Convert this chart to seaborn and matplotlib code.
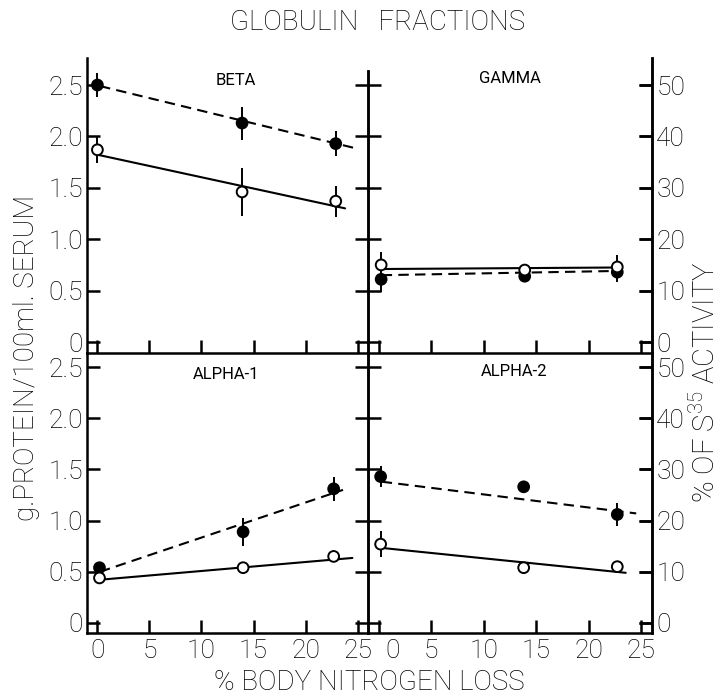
import matplotlib
matplotlib.use("Agg")
import matplotlib.pyplot as plt
import matplotlib.transforms as mtransforms
import pandas as pd
import seaborn as sns

# ---- data: four globulin fractions, three sampling points each ----
beta_x = [0.0, 13.9, 22.9]
beta_filled = [2.50, 2.13, 1.93]
beta_filled_err = [0.12, 0.16, 0.12]
beta_open = [1.87, 1.46, 1.37]
beta_open_err = [0.13, 0.23, 0.15]
beta_filled_fit_x = [0.25, 25.0]
beta_filled_fit_y = [2.49, 1.88]
beta_open_fit_x = [0.1, 23.8]
beta_open_fit_y = [1.82, 1.30]

gamma_x = [0.25, 13.9, 22.7]
gamma_filled = [0.61, 0.64, 0.68]
gamma_filled_err = [0.12, 0.0, 0.10]
gamma_open = [0.75, 0.70, 0.73]
gamma_open_err = [0.13, 0.0, 0.12]
gamma_filled_fit_x = [0.3, 22.0]
gamma_filled_fit_y = [0.65, 0.69]
gamma_open_fit_x = [0.2, 23.0]
gamma_open_fit_y = [0.71, 0.725]

alpha1_x = [0.2, 14.0, 22.7]
alpha1_filled = [0.54, 0.89, 1.31]
alpha1_filled_err = [0.0, 0.14, 0.12]
alpha1_open = [0.44, 0.54, 0.65]
alpha1_open_err = [0.0, 0.0, 0.0]
alpha1_filled_fit_x = [0.25, 23.6]
alpha1_filled_fit_y = [0.50, 1.30]
alpha1_open_fit_x = [0.0, 24.5]
alpha1_open_fit_y = [0.42, 0.635]

alpha2_x = [0.2, 13.8, 22.7]
alpha2_filled = [1.43, 1.33, 1.06]
alpha2_filled_err = [0.10, 0.0, 0.11]
alpha2_open = [0.77, 0.54, 0.55]
alpha2_open_err = [0.13, 0.0, 0.0]
alpha2_filled_fit_x = [0.3, 24.5]
alpha2_filled_fit_y = [1.38, 1.07]
alpha2_open_fit_x = [0.6, 23.5]
alpha2_open_fit_y = [0.73, 0.49]

fractions = ["BETA", "GAMMA", "ALPHA-1", "ALPHA-2"]
x_ticks = [0, 5, 10, 15, 20, 25]
left_ticks = [0, 0.5, 1.0, 1.5, 2.0, 2.5]
left_tick_labels = ["0", "0.5", "1.0", "1.5", "2.0", "2.5"]
right_ticks = [0, 10, 20, 30, 40, 50]

panels = {
    "BETA": (beta_x, beta_filled, beta_filled_err, beta_open, beta_open_err,
             beta_filled_fit_x, beta_filled_fit_y, beta_open_fit_x, beta_open_fit_y),
    "GAMMA": (gamma_x, gamma_filled, gamma_filled_err, gamma_open, gamma_open_err,
              gamma_filled_fit_x, gamma_filled_fit_y, gamma_open_fit_x, gamma_open_fit_y),
    "ALPHA-1": (alpha1_x, alpha1_filled, alpha1_filled_err, alpha1_open, alpha1_open_err,
                alpha1_filled_fit_x, alpha1_filled_fit_y, alpha1_open_fit_x, alpha1_open_fit_y),
    "ALPHA-2": (alpha2_x, alpha2_filled, alpha2_filled_err, alpha2_open, alpha2_open_err,
                alpha2_filled_fit_x, alpha2_filled_fit_y, alpha2_open_fit_x, alpha2_open_fit_y),
}

# long-format tables
pt_rows, fit_rows = [], []
for name, (xs, fy, fe, oy, oe, ffx, ffy, ofx, ofy) in panels.items():
    for x, y, e in zip(xs, fy, fe):
        pt_rows.append(dict(fraction=name, kind="filled", x=x, y=y, err=e))
    for x, y, e in zip(xs, oy, oe):
        pt_rows.append(dict(fraction=name, kind="open", x=x, y=y, err=e))
    for x, y in zip(ffx, ffy):
        fit_rows.append(dict(fraction=name, kind="filled", x=x, y=y))
    for x, y in zip(ofx, ofy):
        fit_rows.append(dict(fraction=name, kind="open", x=x, y=y))
points = pd.DataFrame(pt_rows)
fits = pd.DataFrame(fit_rows)

# ---- styling ----
TICK_LEN = 9.4
TICK_W = 1.8
LW = 1.8
YT_SIZE = 19
sns.set_theme(style="ticks", rc={
    "text.color": "black", "axes.labelcolor": "black",
    "xtick.color": "black", "ytick.color": "black",
    "axes.edgecolor": "black", "axes.linewidth": LW,
    "xtick.direction": "in", "ytick.direction": "in",
    "xtick.major.size": TICK_LEN, "ytick.major.size": TICK_LEN,
    "xtick.major.width": TICK_W, "ytick.major.width": TICK_W,
    "xtick.bottom": True, "ytick.left": True, "ytick.right": True,
})
FONT = ["Roboto", "DejaVu Sans"]
plt.rcParams["font.family"] = FONT
plt.rcParams["font.weight"] = "light"
plt.rcParams["mathtext.fontset"] = "custom"
plt.rcParams["mathtext.rm"] = "Roboto:light"

DPI = 100
W, H = 725, 699
fig = plt.figure(figsize=(W / DPI, H / DPI), dpi=DPI)
fig.patch.set_facecolor("white")


def px_axes(x0, y0, x1, y1):
    return fig.add_axes([x0 / W, 1 - y1 / H, (x1 - x0) / W, (y1 - y0) / H])


x_left, x_mid, x_right = 87, 368, 652
y_top, y_mid, y_bot = 58, 353, 633
axes = {
    "BETA": px_axes(x_left, y_top, x_mid, y_mid),
    "GAMMA": px_axes(x_mid, y_top, x_right, y_mid),
    "ALPHA-1": px_axes(x_left, y_mid, x_mid, y_bot),
    "ALPHA-2": px_axes(x_mid, y_mid, x_right, y_bot),
}
top_row = {"BETA", "GAMMA"}
right_col = {"GAMMA", "ALPHA-2"}
label_pos = {"BETA": (13.3, 2.54), "GAMMA": (12.5, 2.56),
             "ALPHA-1": (12.4, 2.43), "ALPHA-2": (12.9, 2.46)}

for name in fractions:
    ax = axes[name]
    pts = points[points.fraction == name]
    fit = fits[fits.fraction == name]

    sns.lineplot(data=fit, x="x", y="y", style="kind",
                 dashes={"filled": (5, 3), "open": ""}, color="black",
                 linewidth=1.5, legend=False, ax=ax, zorder=1)
    ax.errorbar(pts.x, pts.y, yerr=pts.err, fmt="none", ecolor="black",
                elinewidth=1.4, capsize=0, zorder=2)
    sns.scatterplot(data=pts, x="x", y="y", hue="kind",
                    palette={"filled": "black", "open": "white"},
                    edgecolor="black", linewidth=1.4, s=60, legend=False,
                    ax=ax, zorder=3)

    ax.set_xlim(-1.0, 26.0)
    if name in top_row:
        ax.set_ylim(-0.107, 2.763)
    else:
        ax.set_ylim(-0.098, 2.637)
    ax.set_xticks(x_ticks)
    ax.set_yticks(left_ticks)
    ax.set_yticklabels(left_tick_labels)
    ax.set_xlabel("")
    ax.set_ylabel("")
    ax.set_facecolor("none")

    ax.spines["top"].set_visible(False)
    for s in ("left", "right", "bottom"):
        ax.spines[s].set_visible(True)
        ax.spines[s].set_linewidth(LW)
        ax.spines[s].set_color("black")

    ax.tick_params(which="major", direction="in", length=TICK_LEN,
                   width=TICK_W, color="black", labelcolor="black",
                   top=False, bottom=True, left=True, right=True,
                   labelbottom=name not in top_row,
                   labelleft=name not in right_col, labelright=False)
    ax.tick_params(axis="y", labelsize=YT_SIZE, pad=3)
    ax.tick_params(axis="x", labelsize=19, pad=4)

    if name in top_row:
        # the shared divider between the upper panels stops a little short
        if name == "BETA":
            ax.spines["right"].set_bounds(-0.107, 2.64)
        else:
            ax.spines["left"].set_bounds(-0.107, 2.64)

    if name in right_col:
        sec = ax.secondary_yaxis("right", functions=(lambda v: v * 20.0,
                                                     lambda v: v / 20.0))
        sec.set_yticks(right_ticks)
        sec.spines["right"].set_linewidth(LW)
        sec.spines["right"].set_color("black")
        sec.tick_params(direction="in", length=TICK_LEN, width=TICK_W,
                        color="black", labelcolor="black",
                        labelsize=YT_SIZE, pad=3)

    lx, ly = label_pos[name]
    ax.text(lx, ly, name, ha="center", va="center", fontsize=12,
            fontweight="normal", color="black")

# keep the crowded "25 0" pair at the centre of the x axis apart
shift = mtransforms.ScaledTranslation(14 / DPI, 0, fig.dpi_scale_trans)
first = axes["ALPHA-2"].get_xticklabels()[0]
first.set_transform(first.get_transform() + shift)

fig.text(378 / W, 1 - 22 / H, "GLOBULIN   FRACTIONS", ha="center",
         va="center", fontsize=20, color="black")
fig.text(27 / W, 1 - 358 / H, "g.PROTEIN/100ml. SERUM", rotation=90,
         ha="center", va="center", fontsize=20, color="black")
fig.text(705 / W, 1 - 382 / H, r"% OF S$^{35}$ ACTIVITY", rotation=90,
         ha="center", va="center", fontsize=21, color="black")
fig.text(369 / W, 1 - 683 / H, "% BODY NITROGEN LOSS", ha="center",
         va="center", fontsize=20, color="black")

fig.savefig("out.png", dpi=DPI, facecolor="white")
